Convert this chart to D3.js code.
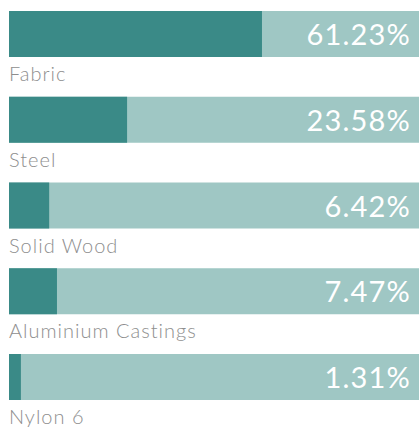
<!DOCTYPE html>
<html>
<head>
<meta charset="utf-8">
<script src="https://cdn.jsdelivr.net/npm/d3@7"></script>
<style>
  html, body { margin: 0; padding: 0; background: #ffffff; }
  svg { display: block; }
</style>
</head>
<body>
<div id="chart"></div>
<script>
const categories = ["Fabric", "Steel", "Solid Wood", "Aluminium Castings", "Nylon 6"];
const valueLabels = ["61.23%", "23.58%", "6.42%", "7.47%", "1.31%"];
// fill length of each bar, as percent of the track
const fillShare = [61.7, 28.8, 9.8, 11.7, 2.9];

const W = 419, H = 428;
const margin = { left: 9, right: 0, top: 11 };
const barH = 46, pitch = 85.75;

const svg = d3.select("#chart").append("svg")
  .attr("width", W).attr("height", H);

const x = d3.scaleLinear().domain([0, 100]).range([margin.left, W - margin.right]);
const y = d3.scaleBand().domain(categories)
  .range([margin.top, margin.top + pitch * categories.length])
  .paddingInner(0).paddingOuter(0);

const rows = svg.selectAll("g.row").data(categories).join("g")
  .attr("class", "row")
  .attr("transform", d => `translate(0,${y(d)})`);

rows.append("rect")
  .attr("x", x(0)).attr("y", 0)
  .attr("width", x(100) - x(0)).attr("height", barH)
  .attr("fill", "#9fc7c4");

rows.append("rect")
  .attr("x", x(0)).attr("y", 0)
  .attr("width", (d, i) => x(fillShare[i]) - x(0)).attr("height", barH)
  .attr("fill", "#3a8a87");

rows.append("text")
  .attr("x", W - 8).attr("y", barH / 2 + 11)
  .attr("text-anchor", "end")
  .attr("fill", "#ffffff")
  .style("font-family", "Lato, 'Open Sans', sans-serif")
  .style("font-size", "29px")
  .style("font-weight", 400)
  .style("letter-spacing", "1.2px")
  .text((d, i) => valueLabels[i]);

rows.append("text")
  .attr("x", x(0)).attr("y", barH + 24)
  .attr("fill", "#8e8e8e")
  .style("font-family", "Lato, 'Open Sans', sans-serif")
  .style("font-size", "20px")
  .style("font-weight", 300)
  .style("letter-spacing", "1px")
  .text(d => d);
</script>
</body>
</html>
